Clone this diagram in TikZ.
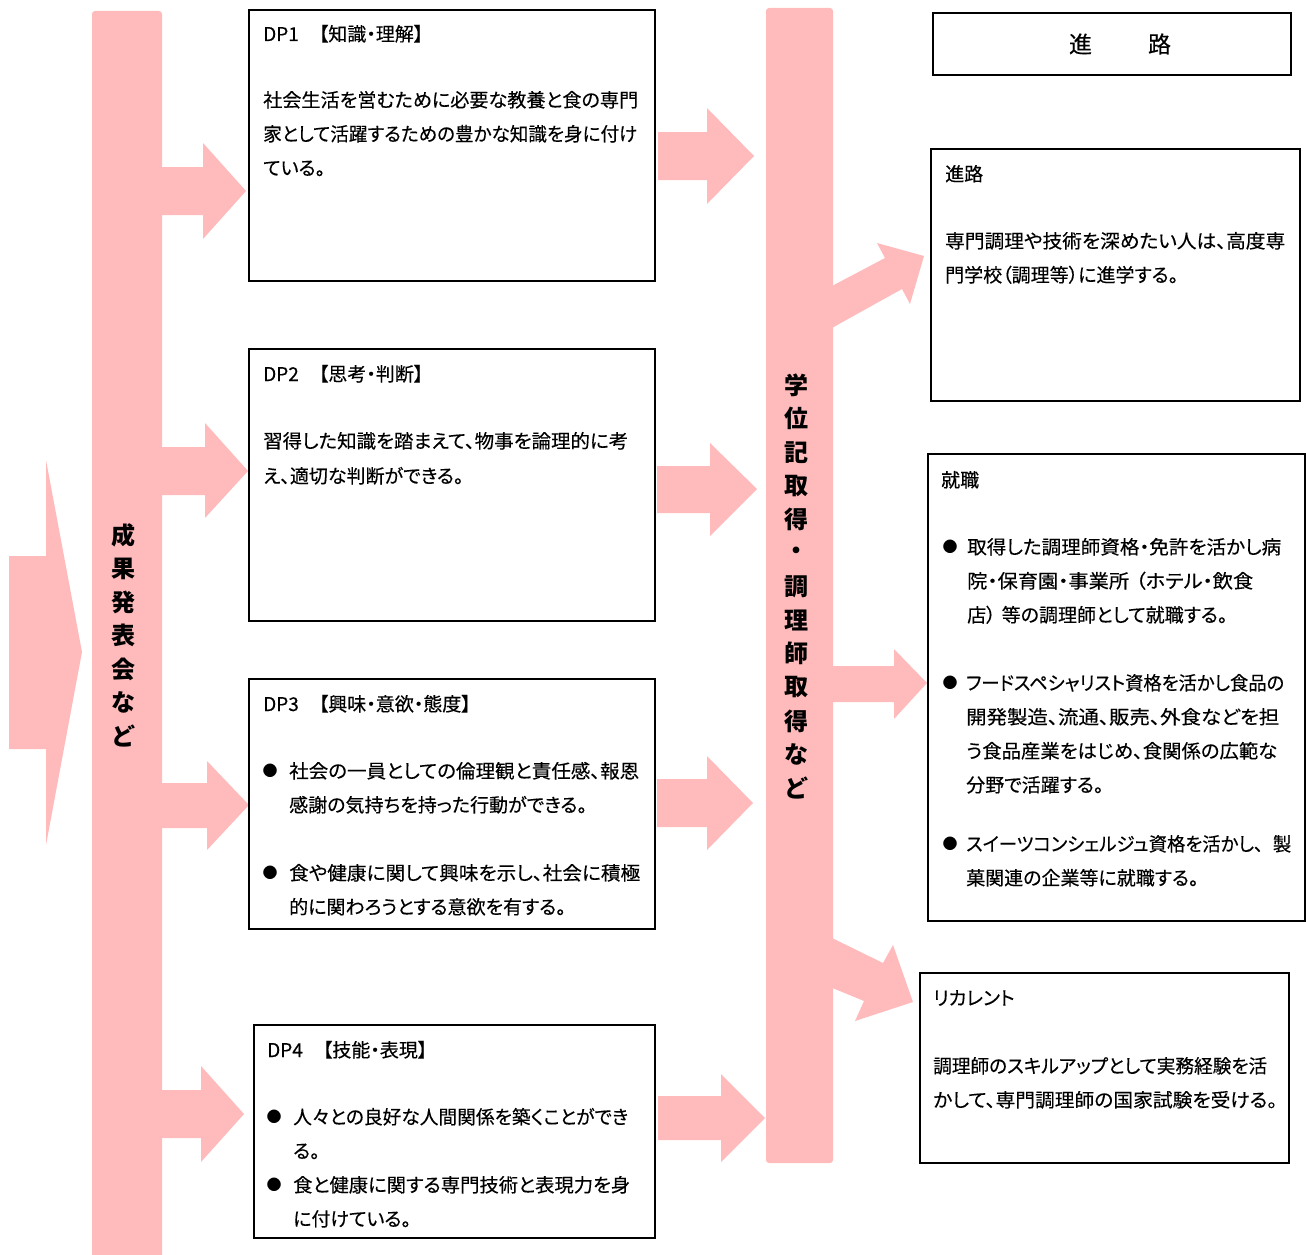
\documentclass[tikz,border=0pt]{standalone}
\usepackage{fontspec}
\setmainfont{Noto Sans CJK JP}[RawFeature={+palt}]
\newfontfamily\bodyf{Noto Sans CJK JP}[RawFeature={+palt},FakeBold=0.3]
\definecolor{pk}{RGB}{255,187,187}
\newcommand\bodysize{\bodyf\fontsize{19}{34}\selectfont}
\newcommand\colsize{\fontsize{24}{24}\selectfont\bfseries}
\newcommand\fitw[2]{\resizebox{#1pt}{\height}{#2}}
\tikzset{
  pkf/.style={fill=pk, draw=none},
  boxn/.style={draw=black, line width=1.6pt, inner sep=0pt, fill=none},
  tx/.style={anchor=base west, inner sep=0pt, font=\bodysize, text=black},
  bul/.style={anchor=center, inner sep=0pt, font=\fontsize{15}{15}\selectfont, text=black},
  vt/.style={anchor=center, inner sep=0pt, font=\colsize, text=black},
}
\begin{document}
\begin{tikzpicture}[x=1pt,y=-1pt]
\useasboundingbox (0,0) rectangle (1306,1255);

% ---------- columns ----------
\fill[pkf, rounded corners=3pt] (92,1262) -- (92,11) -- (162,11) -- (162,1262) -- cycle;
\fill[pkf, rounded corners=3pt] (766,8) rectangle (833,1163);

% big left arrow
\fill[pkf] (9,556) -- (46,556) -- (46,460) -- (82,652) -- (46,845) -- (46,749) -- (9,749) -- cycle;

% left column -> DP boxes
\fill[pkf] (160,167) -- (203,167) -- (203,143) -- (246,191) -- (203,239) -- (203,215) -- (160,215) -- cycle;
\fill[pkf] (160,447) -- (205,447) -- (205,423) -- (248,471) -- (205,518) -- (205,495) -- (160,495) -- cycle;
\fill[pkf] (160,783) -- (207,783) -- (207,761) -- (249,805) -- (207,850) -- (207,828) -- (160,828) -- cycle;
\fill[pkf] (160,1090) -- (201,1090) -- (201,1066) -- (244,1114) -- (201,1162) -- (201,1138) -- (160,1138) -- cycle;

% DP boxes -> middle column
\fill[pkf] (658,132) -- (707,132) -- (707,108) -- (754,156) -- (707,204) -- (707,180) -- (658,180) -- cycle;
\fill[pkf] (657,466) -- (710,466) -- (710,443) -- (757,489) -- (710,536) -- (710,513) -- (657,513) -- cycle;
\fill[pkf] (657,779) -- (707,779) -- (707,756) -- (753,803) -- (707,850) -- (707,827) -- (657,827) -- cycle;
\fill[pkf] (658,1096) -- (721,1096) -- (721,1074) -- (765,1118) -- (721,1162) -- (721,1140) -- (658,1140) -- cycle;

% middle column -> right boxes
\fill[pkf] (830,287) -- (885,258) -- (877,243) -- (924,256) -- (910,304) -- (902,289) -- (830,329) -- cycle;
\fill[pkf] (830,666) -- (894,666) -- (894,649) -- (927,683) -- (894,719) -- (894,702) -- (830,702) -- cycle;
\fill[pkf] (830,937) -- (883,963) -- (893,945) -- (913,1002) -- (855,1021) -- (864,1001) -- (830,987) -- cycle;

% vertical texts
\foreach \c [count=\i] in {成,果,発,表,会,な,ど}
  \node[vt] (l\i) at (123.5,{535+(\i-1)*33.5}) {\c};
\foreach \c [count=\i] in {学,位,記,取,得,・,調,理,師,取,得,な,ど}
  \node[vt] (m\i) at (796.5,{385+(\i-1)*33.6}) {\c};

% ---------- boxes ----------
\node[boxn, minimum width=406pt, minimum height=271pt] (dp1) at (452,145.5) {};
\node[boxn, minimum width=406pt, minimum height=272pt] (dp2) at (452,485) {};
\node[boxn, minimum width=406pt, minimum height=250pt] (dp3) at (452,804) {};
\node[boxn, minimum width=401pt, minimum height=213pt] (dp4) at (454.5,1131.5) {};
\node[boxn, minimum width=358pt, minimum height=62pt] (hd) at (1112,44) {};
\node[boxn, minimum width=369pt, minimum height=252pt] (sh) at (1115.5,275) {};
\node[boxn, minimum width=377pt, minimum height=467pt] (jb) at (1116.5,687.5) {};
\node[boxn, minimum width=369pt, minimum height=190pt] (rc) at (1104.5,1068) {};

% ---------- texts ----------
% DP1
\node[tx] (t1) at (263,41) {DP1\hspace{20pt}【知識・理解】};
\node[tx] (t2) at (263,107) {\fitw{375}{社会生活を営むために必要な教養と食の専門}};
\node[tx] (t3) at (263,141) {\fitw{374}{家として活躍するための豊かな知識を身に付け}};
\node[tx] (t4) at (263,175) {ている。};
% DP2
\node[tx] (t5) at (263,381) {DP2\hspace{20pt}【思考・判断】};
\node[tx] (t6) at (263,448) {\fitw{365}{習得した知識を踏まえて、物事を論理的に考}};
\node[tx] (t7) at (263,483) {え、適切な判断ができる。};
% DP3
\node[tx] (t8) at (263,711) {DP3\hspace{20pt}【興味・意欲・態度】};
\node[bul] (b1) at (270,771) {●};
\node[tx] (t9) at (289,778) {\fitw{350}{社会の一員としての倫理観と責任感、報恩}};
\node[tx] (t10) at (289,812) {感謝の気持ちを持った行動ができる。};
\node[bul] (b2) at (270,873) {●};
\node[tx] (t11) at (289,880) {\fitw{351}{食や健康に関して興味を示し、社会に積極}};
\node[tx] (t12) at (289,914) {的に関わろうとする意欲を有する。};
% DP4
\node[tx] (t13) at (267,1057) {DP4\hspace{20pt}【技能・表現】};
\node[bul] (b3) at (274,1117) {●};
\node[tx] (t14) at (293,1124) {\fitw{335}{人々との良好な人間関係を築くことができ}};
\node[tx] (t15) at (293,1158) {る。};
\node[bul] (b4) at (274,1185) {●};
\node[tx] (t16) at (293,1192) {\fitw{337}{食と健康に関する専門技術と表現力を身}};
\node[tx] (t17) at (293,1226) {に付けている。};
% header
\node[anchor=center, inner sep=0pt, font=\bodyf\fontsize{23}{23}\selectfont] (t18) at (1120,44) {進\hspace{56pt}路};
% shingaku
\node[tx] (t19) at (945,181) {進路};
\node[tx] (t20) at (945,248) {\fitw{340}{専門調理や技術を深めたい人は、高度専}};
\node[tx] (t21) at (945,282) {門学校（調理等）に進学する。};
% shushoku
\node[tx] (t22) at (941,487) {就職};
\node[bul] (b5) at (950,547) {●};
\node[tx] (t23) at (967,554) {\fitw{314}{取得した調理師資格・免許を活かし病}};
\node[tx] (t24) at (967,588) {\fitw{286}{院・保育園・事業所\hspace{6pt}（ホテル・飲食}};
\node[tx] (t25) at (967,622) {店）\hspace{6pt}等の調理師として就職する。};
\node[bul] (b6) at (950,683) {●};
\node[tx] (t26) at (966,690) {\fitw{318}{フードスペシャリスト資格を活かし食品の}};
\node[tx] (t27) at (966,724) {\fitw{313}{開発製造、流通、販売、外食などを担}};
\node[tx] (t28) at (966,758) {\fitw{311}{う食品産業をはじめ、食関係の広範な}};
\node[tx] (t29) at (966,792) {分野で活躍する。};
\node[bul] (b7) at (950,844) {●};
\node[tx] (t30) at (966,851) {\fitw{325}{スイーツコンシェルジュ資格を活かし、\hspace{10pt}製}};
\node[tx] (t31) at (966,885) {菓関連の企業等に就職する。};
% recurrent
\node[tx] (t32) at (933,1005) {リカレント};
\node[tx] (t33) at (933,1073) {\fitw{334}{調理師のスキルアップとして実務経験を活}};
\node[tx] (t34) at (933,1107) {\fitw{344}{かして、専門調理師の国家試験を受ける。}};
\end{tikzpicture}
\end{document}
